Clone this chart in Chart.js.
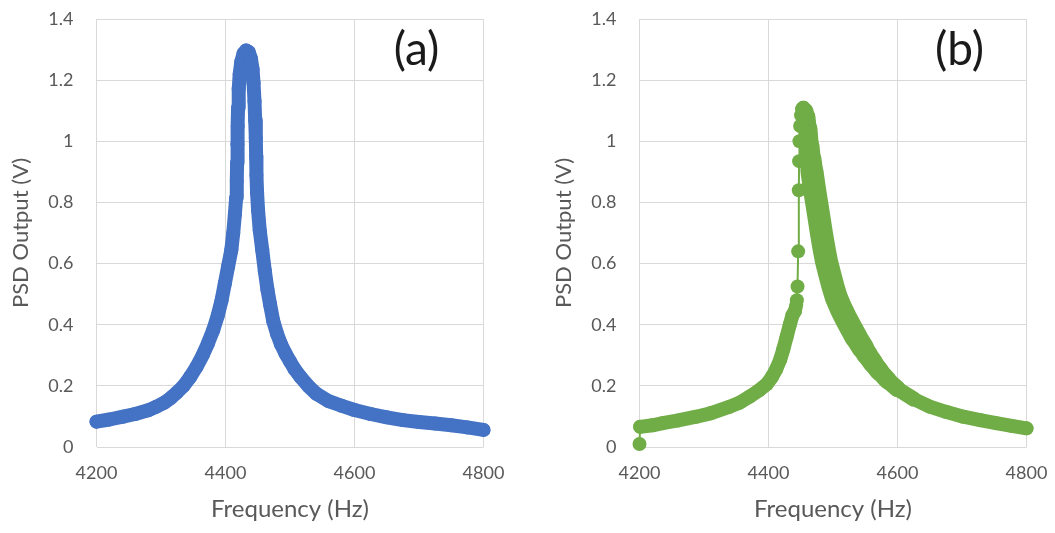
<!DOCTYPE html>
<html><head><meta charset="utf-8">
<script src="https://cdn.jsdelivr.net/npm/chart.js@4/dist/chart.umd.min.js"></script>
<style>
html,body{margin:0;padding:0;background:#fff;overflow:hidden;width:1055px;height:533px}
.box{position:absolute;top:0;width:512px;height:533px}
</style></head><body>
<div class="box" style="left:0"><canvas id="ca" width="512" height="533"></canvas></div>
<div class="box" style="left:543px"><canvas id="cb" width="512" height="533"></canvas></div>
<script>
// ---- data ----
const freqA = [4200,4220,4241,4260,4280,4293,4305,4315,4324,4335,4345,4355,4365,4373,4381,4388,4394,4399,4404,4409,4412,4414.5,4416.5,4417.5,4418,4418.5,4419,4419.5,4420.5,4422,4424.5,4428,4432,4436,4439.5,4442,4443.5,4445,4446,4447,4447.5,4448,4449,4450.5,4453,4457,4461,4465,4469,4474,4480,4486,4493,4500,4507,4516,4528,4541,4560,4580,4600,4625,4650,4675,4700,4725,4750,4775,4800];
const psdA  = [0.083,0.090,0.099,0.108,0.120,0.132,0.145,0.160,0.177,0.200,0.228,0.262,0.302,0.340,0.383,0.430,0.481,0.535,0.590,0.644,0.700,0.760,0.815,0.870,0.930,0.990,1.050,1.110,1.170,1.220,1.260,1.287,1.297,1.292,1.270,1.235,1.190,1.130,1.070,1.010,0.950,0.890,0.830,0.775,0.710,0.644,0.575,0.515,0.468,0.412,0.370,0.336,0.306,0.280,0.255,0.230,0.200,0.174,0.150,0.135,0.121,0.108,0.097,0.088,0.082,0.077,0.071,0.064,0.056];

const freqB = [4200,4201,4220,4236,4260,4288,4310,4340,4355,4371,4385,4397,4405,4412,4418,4423,4428,4433,4437,4441,4442,4443,4444,4445,4446,4447,4447.5,4448,4449,4450.5,4452,4454,4457,4459,4461,4463,4465,4467.5,4470.5,4474,4478,4482,4486,4490,4495,4500,4505,4512,4519,4526,4535,4546,4553,4562,4572,4585,4600,4625,4650,4675,4702,4728,4753,4777,4800];
const psdB  = [0.010,0.066,0.071,0.078,0.087,0.099,0.110,0.132,0.145,0.165,0.185,0.205,0.228,0.255,0.285,0.320,0.360,0.400,0.430,0.445,0.455,0.465,0.480,0.525,0.640,0.840,0.935,1.000,1.050,1.085,1.105,1.110,1.100,1.080,1.040,0.985,0.940,0.900,0.855,0.808,0.755,0.700,0.650,0.606,0.565,0.525,0.490,0.455,0.425,0.397,0.362,0.325,0.302,0.275,0.248,0.218,0.190,0.157,0.132,0.115,0.099,0.088,0.078,0.069,0.061];

const xTicks = [4200,4400,4600,4800];
const xTickLabels = ['4200','4400','4600','4800'];
const yTicks = [0,0.2,0.4,0.6,0.8,1,1.2,1.4];
const yTickLabels = ['0','0.2','0.4','0.6','0.8','1','1.2','1.4'];
const xTitle = 'Frequency (Hz)';
const yTitle = 'PSD Output (V)';
const panelLabels = ['(a)','(b)'];

const FONT = 'Lato';
const GREY = '#595959';

const panelLabelPlugin = {
  id: 'panelLabel',
  afterDraw(chart, args, opts) {
    const {ctx, chartArea} = chart;
    ctx.save();
    ctx.font = '46px ' + FONT;
    ctx.fillStyle = '#1a1a1a';
    ctx.textAlign = 'center';
    ctx.textBaseline = 'middle';
    ctx.fillText(opts.text, chartArea.right - 67, chartArea.top + 31);
    ctx.restore();
  }
};

function makeChart(id, freq, psd, color, label, segWidth, radius) {
  const pts = freq.map((f, i) => ({x: f, y: psd[i]}));
  return new Chart(document.getElementById(id), {
    type: 'scatter',
    data: { datasets: [{
      data: pts,
      showLine: true,
      borderColor: color,
      backgroundColor: color,
      borderWidth: 14,
      borderCapStyle: 'round',
      borderJoinStyle: 'round',
      pointRadius: radius,
      pointBorderWidth: 0,
      pointBackgroundColor: color,
      tension: 0,
      clip: false,
      segment: { borderWidth: segWidth }
    }]},
    options: {
      responsive: false,
      animation: false,
      devicePixelRatio: 1,
      layout: { padding: { left: 0, right: 28.5, top: 19, bottom: 0 } },
      plugins: { legend: {display: false}, tooltip: {enabled: false}, panelLabel: {text: label} },
      scales: {
        x: {
          type: 'linear', min: 4200, max: 4800,
          afterBuildTicks: s => { s.ticks = xTicks.map(v => ({value: v})); },
          afterFit: s => { s.height = 86; s.paddingLeft = 0; s.paddingRight = 0; },
          ticks: { callback: v => xTickLabels[xTicks.indexOf(v)], font: {family: FONT, size: 18}, color: GREY, padding: 15, maxRotation: 0, autoSkip: false },
          grid: { color: '#d9d9d9', lineWidth: 1, drawTicks: false },
          border: { display: false },
          title: { display: true, text: xTitle, font: {family: FONT, size: 24}, color: GREY, padding: {top: 0, bottom: 9} }
        },
        y: {
          type: 'linear', min: 0, max: 1.4,
          afterBuildTicks: s => { s.ticks = yTicks.map(v => ({value: v})); },
          afterFit: s => { s.width = 96.5; s.paddingTop = 0; s.paddingBottom = 0; },
          ticks: { callback: v => yTickLabels[yTicks.findIndex(t => Math.abs(t - v) < 1e-9)], font: {family: FONT, size: 18}, color: GREY, padding: 23, autoSkip: false },
          grid: { color: '#d9d9d9', lineWidth: 1, drawTicks: false },
          border: { display: false },
          title: { display: true, text: yTitle, font: {family: FONT, size: 22}, color: GREY, padding: {top: 8, bottom: 0} }
        }
      }
    },
    plugins: [panelLabelPlugin]
  });
}

function clamp01(v) { return Math.max(0, Math.min(1, v)); }

makeChart('ca', freqA, psdA, '#4472C4', panelLabels[0], () => 14, 7);
makeChart('cb', freqB, psdB, '#70AD47', panelLabels[1], ctx => {
  const x0 = ctx.p0.parsed.x, x1 = ctx.p1.parsed.x;
  if (ctx.p0DataIndex === 0) return 2;
  if (x0 >= 4441 && x1 <= 4454) return 2;
  if (x0 >= 4454) return 14 + 9 * clamp01((x0 - 4454) / 12) * clamp01((4610 - x0) / 80);
  return 14;
}, 7);
</script>
</body></html>
